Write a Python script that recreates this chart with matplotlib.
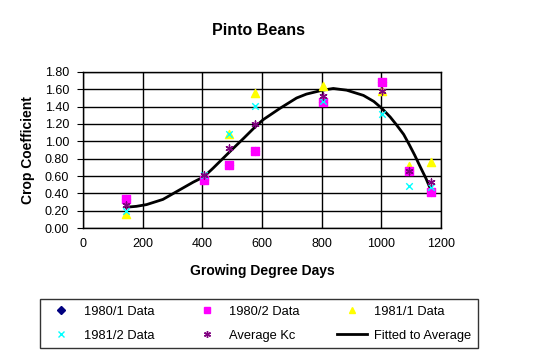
import matplotlib.pyplot as plt
from matplotlib.lines import Line2D

plt.rcParams['font.family'] = ['Liberation Sans', 'DejaVu Sans']

# Dataset
gdd = [145, 405, 491, 578, 803, 1002, 1094, 1166]
kc_1980_1 = [0.33, 0.55, 0.73, 0.89, 1.45, 1.69, 0.66, 0.41]
kc_1980_2 = [0.33, 0.55, 0.73, 0.89, 1.45, 1.69, 0.66, 0.41]
kc_1981_1 = [0.16, None, 1.08, 1.56, 1.64, 1.58, 0.72, 0.76]
kc_1981_2 = [0.20, 0.61, 1.08, 1.41, 1.46, 1.32, 0.49, 0.47]
kc_average = [0.26, 0.61, 0.92, 1.20, 1.52, 1.58, 0.66, 0.53]

fit_gdd = [145, 179, 213, 268, 324, 370, 405, 436, 492, 540, 578, 604, 660, 716, 749, 803, 839, 884, 940,
           975, 1002, 1030, 1051, 1075, 1094, 1112, 1130, 1150, 1166]
fit_kc = [0.24, 0.25, 0.27, 0.33, 0.44, 0.53, 0.59, 0.69, 0.88, 1.04, 1.17, 1.25, 1.38, 1.50, 1.545, 1.59,
          1.61, 1.59, 1.53, 1.46, 1.38, 1.28, 1.19, 1.08, 0.96, 0.84, 0.71, 0.57, 0.44]

fig = plt.figure(figsize=(5.51, 3.58), dpi=100)
ax = fig.add_axes([0.1506, 0.3631, 0.6497, 0.4358])

ax.plot(fit_gdd, fit_kc, color='black', linewidth=2, zorder=2)

def pts(xs, ys):
    keep = [(x, y) for x, y in zip(xs, ys) if y is not None]
    return [k[0] for k in keep], [k[1] for k in keep]

x, y = pts(gdd, kc_1980_1)
ax.scatter(x, y, marker='D', s=16, color='#000080', zorder=3)
x, y = pts(gdd, kc_1980_2)
ax.scatter(x, y, marker='s', s=30, color='#ff00ff', zorder=4)
x, y = pts(gdd, kc_1981_1)
ax.scatter(x, y, marker='^', s=34, color='#ffff00', zorder=3)
x, y = pts(gdd, kc_1981_2)
ax.scatter(x, y, marker='x', s=22, color='#00ffff', linewidths=1, zorder=4)
x, y = pts(gdd, kc_average)
ax.scatter(x, y, marker=(6, 2, 0), s=26, color='#800080', linewidths=1, zorder=5)

ax.set_xlim(0, 1200)
ax.set_ylim(0, 1.8)
ax.set_xticks(range(0, 1201, 200))
ax.set_yticks([i * 0.2 for i in range(10)])
ax.set_yticklabels(['%.2f' % (i * 0.2) for i in range(10)])
ax.grid(True, color='black', linewidth=1)
ax.set_axisbelow(True)
for s in ax.spines.values():
    s.set_linewidth(1)
ax.tick_params(axis='y', direction='out', length=4, labelsize=9, pad=6)
ax.tick_params(axis='x', length=0, labelsize=9, pad=7)

ax.set_xlabel('Growing Degree Days', fontsize=10, fontweight='bold', labelpad=10)
ax.set_ylabel('Crop Coefficient', fontsize=10, fontweight='bold', labelpad=7)
fig.text(0.469, 0.915, 'Pinto Beans', ha='center', va='center', fontsize=11.5, fontweight='bold')

handles = [
    Line2D([], [], linestyle='none', marker='D', markersize=4, color='#000080'),
    Line2D([], [], linestyle='none', marker='x', markersize=5, color='#00ffff'),
    Line2D([], [], linestyle='none', marker='s', markersize=5, color='#ff00ff'),
    Line2D([], [], linestyle='none', marker=(6, 2, 0), markersize=5, color='#800080'),
    Line2D([], [], linestyle='none', marker='^', markersize=5, color='#ffff00'),
    Line2D([], [], color='black', linewidth=2),
]
labels = ['1980/1 Data', '1981/2 Data', '1980/2 Data', 'Average Kc', '1981/1 Data', 'Fitted to Average']
leg = fig.legend(handles, labels, ncol=3, loc='lower left',
                 bbox_to_anchor=(0.0726, 0.028, 0.795, 0.14), mode='expand',
                 fontsize=9.3, frameon=True, fancybox=False, edgecolor='black',
                 handlelength=2.3, handletextpad=0.6, columnspacing=0.8,
                 labelspacing=0.9, borderpad=0.5, borderaxespad=0)
leg.get_frame().set_linewidth(1)

fig.savefig('out.png', dpi=100)
